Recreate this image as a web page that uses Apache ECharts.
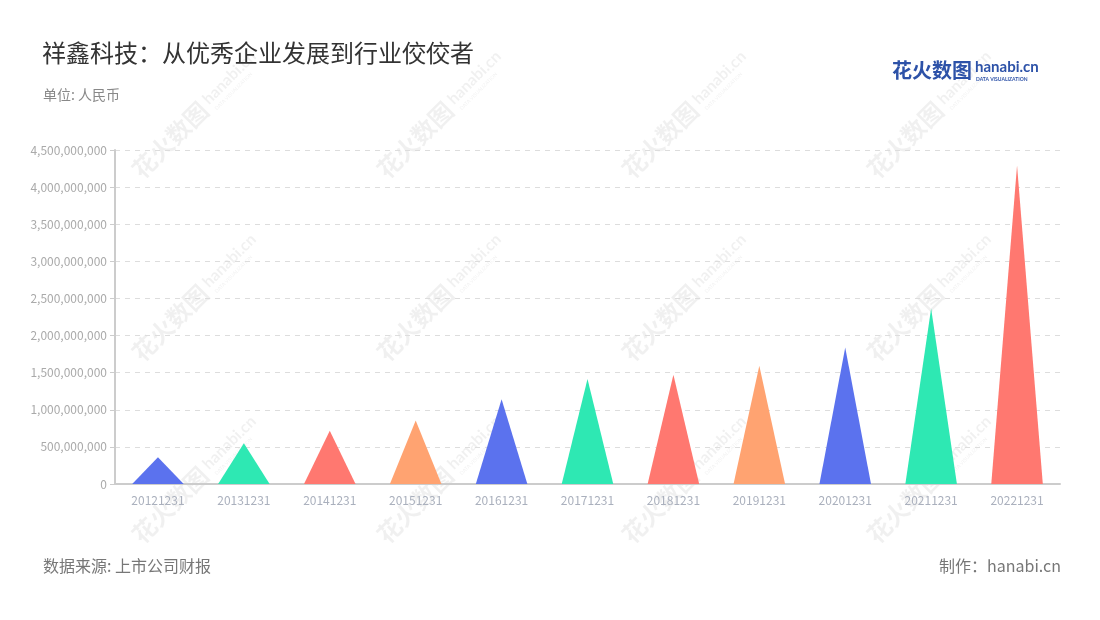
<!DOCTYPE html>
<html>
<head>
<meta charset="utf-8">
<script src="https://cdn.jsdelivr.net/npm/echarts@6/dist/echarts.min.js"></script>
<style>
html,body{margin:0;padding:0;background:#fff;}
#main{width:1100px;height:620px;}
</style>
</head>
<body>
<div id="main"></div>
<script>
const categories = ['20121231','20131231','20141231','20151231','20161231','20171231','20181231','20191231','20201231','20211231','20221231'];
const values = [360000000, 550000000, 716000000, 855000000, 1143000000, 1413000000, 1472000000, 1593000000, 1840000000, 2363000000, 4290000000];
const palette = ['#5b72ee', '#2ee8b3', '#ff7870', '#ffa371'];
const titleText = '祥鑫科技：从优秀企业发展到行业佼佼者';
const unitText = '单位: 人民币';
const sourceText = '数据来源: 上市公司财报';
const makerText = '制作：hanabi.cn';

const chart = echarts.init(document.getElementById('main'), null, {renderer: 'canvas'});

const fontFamily = '"Noto Sans CJK SC", "Noto Sans", sans-serif';

// watermark tiles
const wmCols = [180, 425, 670, 915];
const wmRows = [130, 313, 495];
const watermarks = [];
wmRows.forEach(y => wmCols.forEach(x => {
  watermarks.push({
    type: 'group',
    x: x, y: y,
    rotation: Math.PI / 4,
    silent: true,
    z: 0,
    children: [
      {type: 'text', x: -62, y: -12, style: {text: '花火数图', fontSize: 24, fontWeight: 'bold', fontFamily: fontFamily, fill: 'rgba(0,0,0,0.06)'}},
      {type: 'text', x: 38, y: -10, style: {text: 'hanabi.cn', fontSize: 16, fontWeight: 'bold', fontFamily: 'Lato, sans-serif', fill: 'rgba(0,0,0,0.06)'}},
      {type: 'text', x: 40, y: 8, style: {text: 'DATA VISUALIZATION', fontSize: 5, fontFamily: 'Lato, sans-serif', fill: 'rgba(0,0,0,0.06)'}}
    ]
  });
}));

chart.setOption({
  backgroundColor: '#fff',
  textStyle: {fontFamily: fontFamily},
  title: [
    {text: titleText, left: 42, top: 41, padding: 0, textStyle: {fontSize: 24, fontWeight: 'normal', color: '#333', fontFamily: fontFamily}},
    {text: unitText, left: 43, top: 88, padding: 0, textStyle: {fontSize: 14, fontWeight: 'normal', color: '#888', fontFamily: fontFamily}},
    {text: sourceText, left: 43, top: 558, padding: 0, textStyle: {fontSize: 16, fontWeight: 'normal', color: '#777', fontFamily: fontFamily}},
    {text: makerText, right: 39, top: 558, padding: 0, textStyle: {fontSize: 16, fontWeight: 'normal', color: '#777', fontFamily: fontFamily}}
  ],
  graphic: watermarks.concat([
    {type: 'text', left: 892, top: 60, z: 10, style: {text: '花火数图', fontSize: 20, fontWeight: 'bold', fontFamily: fontFamily, fill: '#2d52a8'}},
    {type: 'text', left: 975, top: 60, z: 10, style: {text: 'hanabi.cn', fontSize: 15, fontWeight: 'bold', fontFamily: 'Lato, sans-serif', fill: '#2d52a8'}},
    {type: 'text', left: 976, top: 77, z: 10, style: {text: 'DATA VISUALIZATION', fontSize: 5, fontWeight: 'bold', fontFamily: 'Lato, sans-serif', fill: '#2d52a8'}}
  ]),
  grid: {left: 115, right: 40, top: 150, bottom: 136, containLabel: false},
  xAxis: {
    type: 'category',
    data: categories,
    axisLine: {lineStyle: {color: '#ccc', width: 2}},
    axisTick: {alignWithLabel: true, lineStyle: {color: '#ccc'}, length: 5},
    axisLabel: {color: '#aab0bd', fontSize: 12, margin: 10}
  },
  yAxis: {
    type: 'value',
    min: 0, max: 4500000000, interval: 500000000,
    axisLine: {show: true, lineStyle: {color: '#ccc', width: 2}},
    axisTick: {show: true, lineStyle: {color: '#ccc'}, length: 5},
    axisLabel: {color: '#aaa', fontSize: 12, margin: 8, formatter: v => v.toLocaleString('en-US')},
    splitLine: {lineStyle: {color: '#ddd', type: [5, 5]}}
  },
  series: [{
    type: 'pictorialBar',
    symbol: 'triangle',
    barWidth: '60%',
    z: 5,
    data: values.map((v, i) => ({value: v, itemStyle: {color: palette[i % palette.length]}}))
  }]
});
</script>
</body>
</html>
